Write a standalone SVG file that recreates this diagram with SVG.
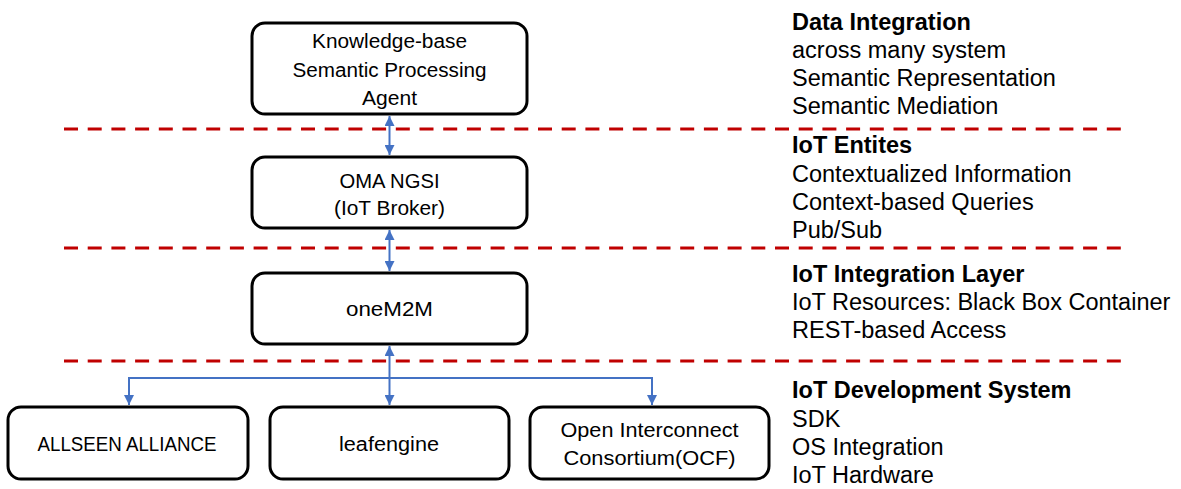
<svg xmlns="http://www.w3.org/2000/svg" width="1181" height="489" viewBox="0 0 1181 489">
<style>
.box{fill:#fff;stroke:#000;stroke-width:3}
.bt{font-family:"Liberation Sans",Arial,sans-serif;font-size:19.5px;fill:#000;text-anchor:middle}
.rt{font-family:"Liberation Sans",Arial,sans-serif;font-size:23.5px;fill:#000}
.rb{font-weight:bold}
.sep{stroke:#C00000;stroke-width:3;stroke-dasharray:14 9.7;fill:none}
.con{stroke:#4472C4;stroke-width:2;fill:none}
</style>
<defs>
<marker id="ah" viewBox="0 0 10 10" refX="10" refY="5" markerWidth="10" markerHeight="10" markerUnits="userSpaceOnUse" orient="auto-start-reverse">
<path d="M0,0 L10,5 L0,10 z" fill="#4472C4"/>
</marker>
</defs>
<g id="separators">
<line class="sep" x1="64" y1="129" x2="1122" y2="129"/>
<line class="sep" x1="64" y1="248" x2="1122" y2="248"/>
<line class="sep" x1="64" y1="361" x2="1122" y2="361"/>
</g>
<g id="connectors">
<line class="con" x1="389.5" y1="116" x2="389.5" y2="155" marker-start="url(#ah)" marker-end="url(#ah)"/>
<line class="con" x1="389.5" y1="230" x2="389.5" y2="271" marker-start="url(#ah)" marker-end="url(#ah)"/>
<line class="con" x1="389.5" y1="346" x2="389.5" y2="405" marker-start="url(#ah)" marker-end="url(#ah)"/>
<polyline class="con" points="129,405 129,378 652,378 652,405" marker-start="url(#ah)" marker-end="url(#ah)"/>
</g>
<g id="node-kb">
<rect class="box" x="252" y="23" width="275" height="91" rx="13"/>
<text class="bt" x="389.5" y="48" textLength="155" lengthAdjust="spacingAndGlyphs">Knowledge-base</text>
<text class="bt" x="389.5" y="77" textLength="194" lengthAdjust="spacingAndGlyphs">Semantic Processing</text>
<text class="bt" x="389.5" y="105" textLength="55" lengthAdjust="spacingAndGlyphs">Agent</text>
</g>
<g id="node-oma">
<rect class="box" x="252" y="157" width="275" height="71" rx="13"/>
<text class="bt" x="389.5" y="188" textLength="100" lengthAdjust="spacingAndGlyphs">OMA NGSI</text>
<text class="bt" x="389.5" y="215" textLength="111" lengthAdjust="spacingAndGlyphs">(IoT Broker)</text>
</g>
<g id="node-onem2m">
<rect class="box" x="252" y="273" width="275" height="71" rx="13"/>
<text class="bt" x="389.5" y="316" textLength="87" lengthAdjust="spacingAndGlyphs">oneM2M</text>
</g>
<g id="node-allseen">
<rect class="box" x="8" y="407" width="240" height="72" rx="13"/>
<text class="bt" x="127" y="451" textLength="179" lengthAdjust="spacingAndGlyphs">ALLSEEN ALLIANCE</text>
</g>
<g id="node-leafengine">
<rect class="box" x="270" y="407" width="239" height="72" rx="13"/>
<text class="bt" x="389" y="451" textLength="100" lengthAdjust="spacingAndGlyphs">leafengine</text>
</g>
<g id="node-ocf">
<rect class="box" x="530" y="407" width="239" height="72" rx="13"/>
<text class="bt" x="649.5" y="437" textLength="178" lengthAdjust="spacingAndGlyphs">Open Interconnect</text>
<text class="bt" x="649.5" y="465" textLength="172" lengthAdjust="spacingAndGlyphs">Consortium(OCF)</text>
</g>
<g id="layer-labels">
<text class="rt rb" x="792" y="30">Data Integration</text>
<text class="rt" x="792" y="58">across many system</text>
<text class="rt" x="792" y="86">Semantic Representation</text>
<text class="rt" x="792" y="114">Semantic Mediation</text>
<text class="rt rb" x="792" y="153">IoT Entites</text>
<text class="rt" x="792" y="182">Contextualized Information</text>
<text class="rt" x="792" y="210">Context-based Queries</text>
<text class="rt" x="792" y="238">Pub/Sub</text>
<text class="rt rb" x="792" y="282">IoT Integration Layer</text>
<text class="rt" x="792" y="310">IoT Resources: Black Box Container</text>
<text class="rt" x="792" y="338">REST-based Access</text>
<text class="rt rb" x="792" y="398">IoT Development System</text>
<text class="rt" x="792" y="427">SDK</text>
<text class="rt" x="792" y="455">OS Integration</text>
<text class="rt" x="792" y="483">IoT Hardware</text>
</g>
</svg>
